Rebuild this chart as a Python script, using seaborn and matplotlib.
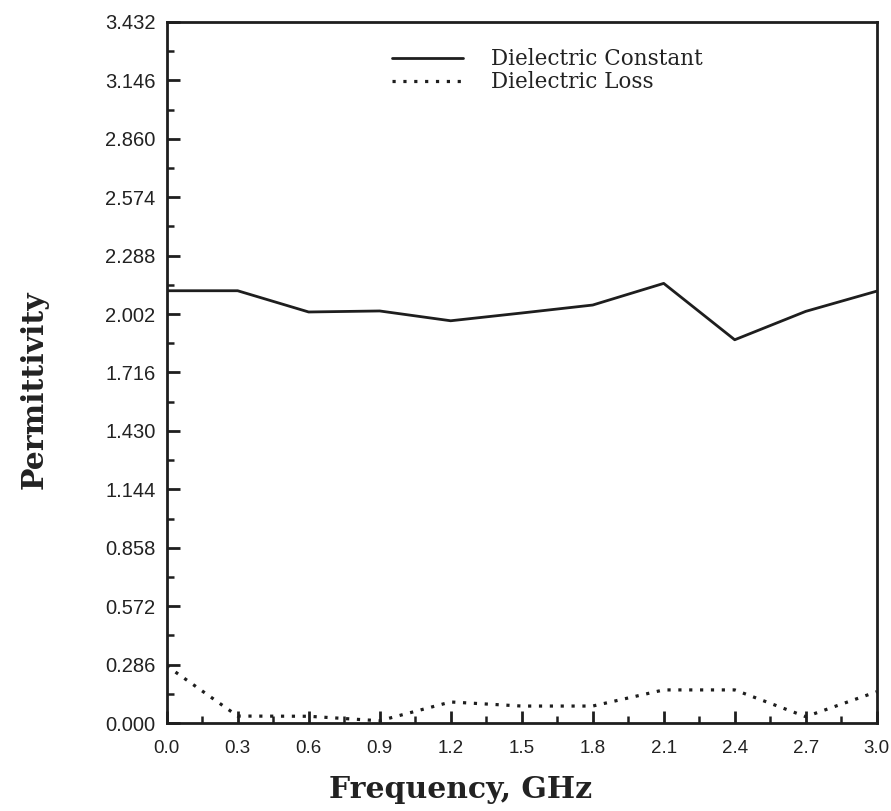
import matplotlib
matplotlib.use("Agg")
import matplotlib.pyplot as plt
from matplotlib.ticker import MultipleLocator, FixedLocator
import seaborn as sns
import pandas as pd

frequency = [0.0, 0.3, 0.6, 0.9, 1.2, 1.5, 1.8, 2.1, 2.4, 2.7, 3.0]
dielectric_constant = [2.116, 2.116, 2.012, 2.017, 1.969, 2.007, 2.046, 2.152, 1.876, 2.015, 2.114]
dielectric_loss = [0.280, 0.034, 0.033, 0.011, 0.103, 0.083, 0.083, 0.162, 0.162, 0.031, 0.153]
y_ticks = [0.000, 0.286, 0.572, 0.858, 1.144, 1.430, 1.716, 2.002, 2.288, 2.574, 2.860, 3.146, 3.432]
x_ticks = [0.0, 0.3, 0.6, 0.9, 1.2, 1.5, 1.8, 2.1, 2.4, 2.7, 3.0]

sns.set_theme(style="ticks")
plt.rcParams["font.family"] = ["Liberation Sans", "DejaVu Sans"]

fig = plt.figure(figsize=(8.91, 8.11), dpi=100)
ax = fig.add_axes([0.187, 0.1085, 0.797, 0.8645])

df_c = pd.DataFrame({"f": frequency, "v": dielectric_constant})
df_l = pd.DataFrame({"f": frequency, "v": dielectric_loss})
ink = "#1e1e1e"
sns.lineplot(data=df_c, x="f", y="v", ax=ax, color=ink, lw=2.0,
             label="Dielectric Constant")
sns.lineplot(data=df_l, x="f", y="v", ax=ax, color=ink, lw=2.3,
             linestyle=(0, (1, 2.4)), label="Dielectric Loss")

ax.set_xlim(0, 3.0)
ax.set_ylim(0, 3.432)
ax.xaxis.set_major_locator(FixedLocator(x_ticks))
ax.xaxis.set_minor_locator(MultipleLocator(0.15))
ax.yaxis.set_major_locator(FixedLocator(y_ticks))
ax.yaxis.set_minor_locator(MultipleLocator(0.143))
ax.set_xticklabels([f"{t:.1f}" for t in x_ticks])
ax.set_yticklabels([f"{t:.3f}" for t in y_ticks])

for s in ax.spines.values():
    s.set_linewidth(2.0)
    s.set_color(ink)
ax.tick_params(which="major", direction="in", length=9, width=2.0,
               colors=ink, labelcolor="#222222")
ax.tick_params(axis="y", labelsize=14.5, pad=8)
ax.tick_params(axis="x", labelsize=13.5, pad=12)
ax.tick_params(which="minor", direction="in", length=5, width=1.8, colors=ink)
ax.tick_params(axis="y", which="both", right=False)
ax.tick_params(axis="x", which="both", top=False)

ax.set_xlabel("Frequency, GHz", fontsize=21.5, fontweight="bold",
              family=["DejaVu Serif"], color="#222222")
ax.set_ylabel("Permittivity", fontsize=21.5, fontweight="bold",
              family=["DejaVu Serif"], color="#222222")
ax.xaxis.set_label_coords(0.414, -0.095)
ax.yaxis.set_label_coords(-0.186, 0.475)
ax.xaxis.label.set_va("center")
ax.yaxis.label.set_va("center")

leg = ax.legend(loc="upper left", bbox_to_anchor=(0.29, 0.99), frameon=False,
                handlelength=3.3, handletextpad=1.3, labelspacing=0.05,
                prop={"family": "DejaVu Serif", "size": 15.5})
for t in leg.get_texts():
    t.set_color("#222222")

fig.savefig("out.png", dpi=100, facecolor="white")
